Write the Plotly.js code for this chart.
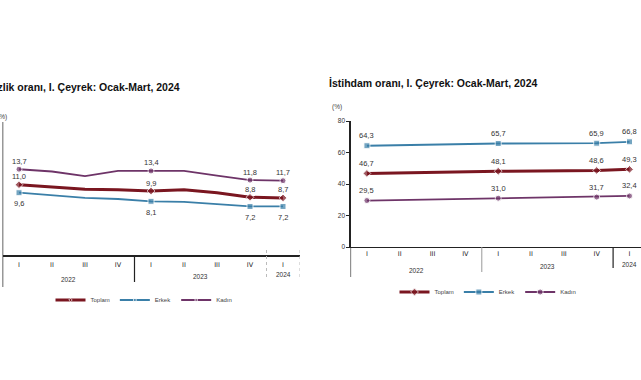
<!DOCTYPE html>
<html>
<head>
<meta charset="utf-8">
<script src="https://cdn.plot.ly/plotly-3.0.1.min.js"></script>
<style>
html,body{margin:0;padding:0;background:#fff;}
#chart{width:641px;height:380px;}
</style>
</head>
<body>
<div id="chart"></div>
<script>
// ---- data ----
const quarters = ["I","II","III","IV","I","II","III","IV","I"];
const years = ["2022","2023","2024"];
const yearSizes = [4,4,1];

// İşsizlik oranı (%)
const unempTotal  = [11.0,10.6,10.2,10.1,9.9,10.1,9.6,8.8,8.7];
const unempMale   = [9.6,9.1,8.7,8.5,8.1,8.0,7.6,7.2,7.2];
const unempFemale = [13.7,13.3,12.5,13.4,13.4,13.4,12.6,11.8,11.7];
const labeledIdx  = [0,4,7,8];

// İstihdam oranı (%)
const empTotal  = [46.7,null,null,null,48.1,null,null,48.6,49.3];
const empMale   = [64.3,null,null,null,65.7,null,null,65.9,66.8];
const empFemale = [29.5,null,null,null,31.0,null,null,31.7,32.4];

const leftTitle  = "İşsizlik oranı, I. Çeyrek: Ocak-Mart, 2024";
const rightTitle = "İstihdam oranı, I. Çeyrek: Ocak-Mart, 2024";
const unitLabel  = "(%)";

// ---- helpers ----
const W = 641, H = 380;
const px = x => x / W;
const py = y => 1 - y / H;
const xs = quarters.map((q, i) => i);
const fmt = v => v.toFixed(1).replace(".", ",");
const FONT = "Liberation Sans, Arial, sans-serif";

const colors = {Toplam: "#7a1620", Erkek: "#3a7fa8", "Kadın": "#6e3468"};
const widths = {Toplam: 3, Erkek: 1.8, "Kadın": 1.8};
const symbols = {Toplam: "diamond", Erkek: "square", "Kadın": "circle"};

const traces = [];
const annotations = [];

function addSeries(vals, name, xa, ya, legend, showAll, shift) {
  const sizes = vals.map((v, i) => (showAll || labeledIdx.includes(i)) ? 6 : 0);
  traces.push({
    type: "scatter", mode: "lines+markers", x: xs, y: vals, name: name,
    xaxis: xa, yaxis: ya, legend: legend, connectgaps: true,
    line: {color: colors[name], width: widths[name]},
    marker: {symbol: symbols[name], size: sizes, color: colors[name]},
    hoverinfo: "skip"
  });
  vals.forEach((v, i) => {
    if (v === null || v === undefined) return;
    if (!(showAll || labeledIdx.includes(i))) return;
    annotations.push({xref: xa, yref: ya, x: xs[i], y: v, text: fmt(v),
      showarrow: false, xanchor: "center", yanchor: "middle", yshift: shift,
      font: {family: FONT, size: 7.5, color: "#333"}});
  });
}

addSeries(unempTotal,  "Toplam", "x", "y", "legend", false, 8);
addSeries(unempMale,   "Erkek",  "x", "y", "legend", false, -11);
addSeries(unempFemale, "Kadın",  "x", "y", "legend", false, 8);

addSeries(empTotal,  "Toplam", "x2", "y2", "legend2", true, 10);
addSeries(empMale,   "Erkek",  "x2", "y2", "legend2", true, 10);
addSeries(empFemale, "Kadın",  "x2", "y2", "legend2", true, 10);

// year group centres (derived from group sizes)
const yearCenters = [];
const groupBounds = [];
let start = 0;
yearSizes.forEach(s => { yearCenters.push(start + (s - 1) / 2); start += s; groupBounds.push(start - 0.5); });

annotations.push(
  {xref: "paper", yref: "paper", x: px(182), y: py(87), xanchor: "right", yanchor: "middle",
   text: "<b>" + leftTitle + "</b>", showarrow: false, font: {family: FONT, size: 10.5, color: "#111"}},
  {xref: "paper", yref: "paper", x: px(327), y: py(83), xanchor: "left", yanchor: "middle",
   text: "<b>" + rightTitle + "</b>", showarrow: false, font: {family: FONT, size: 10.5, color: "#111"}},
  {xref: "paper", yref: "paper", x: px(9), y: py(117), xanchor: "right", yanchor: "middle",
   text: unitLabel, showarrow: false, font: {family: FONT, size: 6.5, color: "#444"}},
  {xref: "paper", yref: "paper", x: px(337), y: py(107), xanchor: "center", yanchor: "middle",
   text: unitLabel, showarrow: false, font: {family: FONT, size: 6.5, color: "#444"}}
);
const leftYearY = [279, 276, 274];
const rightYearY = [270, 266, 264];
years.forEach((yr, i) => {
  annotations.push({xref: "x", yref: "paper", x: yearCenters[i], y: py(leftYearY[i]),
    xanchor: "center", yanchor: "middle",
    text: yr, showarrow: false, font: {family: FONT, size: 6.5, color: "#333"}});
  annotations.push({xref: "x2", yref: "paper", x: yearCenters[i], y: py(rightYearY[i]),
    xanchor: "center", yanchor: "middle",
    text: yr, showarrow: false, font: {family: FONT, size: 6.5, color: "#333"}});
});

const shapes = [
  // left chart: y-axis line extended through category area
  {type: "line", xref: "x", yref: "paper", x0: -0.5, x1: -0.5, y0: py(122), y1: py(287), line: {color: "#333", width: 1.5}},
  {type: "line", xref: "x", yref: "paper", x0: groupBounds[0], x1: groupBounds[0], y0: py(255), y1: py(282), line: {color: "#222", width: 1.2}},
  {type: "line", xref: "x", yref: "paper", x0: groupBounds[1], x1: groupBounds[1], y0: py(250), y1: py(278), line: {color: "#bbb", width: 1, dash: "dot"}},
  {type: "line", xref: "x", yref: "paper", x0: groupBounds[2], x1: groupBounds[2], y0: py(250), y1: py(278), line: {color: "#bbb", width: 1, dash: "dot"}},
  // right chart
  {type: "line", xref: "x2", yref: "paper", x0: -0.5, x1: -0.5, y0: py(247), y1: py(277), line: {color: "#222", width: 1.2}},
  {type: "line", xref: "x2", yref: "paper", x0: groupBounds[0], x1: groupBounds[0], y0: py(247), y1: py(272), line: {color: "#999", width: 1}},
  {type: "line", xref: "x2", yref: "paper", x0: groupBounds[1], x1: groupBounds[1], y0: py(247), y1: py(268), line: {color: "#222", width: 1.2}}
];

const axisFont = {family: "DejaVu Sans, Liberation Sans, sans-serif", size: 6.5, color: "#222"};

const layout = {
  width: W, height: H,
  margin: {l: 0, r: 0, t: 0, b: 0, pad: 0},
  paper_bgcolor: "#fff", plot_bgcolor: "rgba(0,0,0,0)",
  font: {family: FONT},
  xaxis: {domain: [px(2.5), px(299.5)], range: [-0.5, 8.5], anchor: "y",
    tickvals: xs, ticktext: quarters, tickfont: axisFont, ticks: "", ticklabelstandoff: 3,
    showgrid: false, zeroline: false, showline: true, linecolor: "#222", linewidth: 1.5},
  yaxis: {domain: [py(255), py(125)], range: [-1.27, 21.42], anchor: "x",
    showticklabels: false, showgrid: false, zeroline: false, showline: false, ticks: ""},
  xaxis2: {domain: [px(350.5), 1], range: [-0.5, 8.35], anchor: "y2",
    tickvals: xs, ticktext: quarters, tickfont: axisFont, ticks: "",
    showgrid: false, zeroline: false, showline: true, linecolor: "#222", linewidth: 1.2},
  yaxis2: {domain: [py(247), py(121)], range: [0, 80], anchor: "x2", dtick: 20,
    tickfont: {family: FONT, size: 6.5, color: "#333"}, ticks: "outside", ticklen: 3, tickcolor: "#222",
    showgrid: false, zeroline: false, showline: true, linecolor: "#222", linewidth: 1.2},
  legend: {x: px(144), xanchor: "center", y: py(300), yanchor: "middle", orientation: "h",
    font: {family: FONT, size: 6, color: "#444"}, itemwidth: 30, bgcolor: "rgba(0,0,0,0)"},
  legend2: {x: px(488), xanchor: "center", y: py(292), yanchor: "middle", orientation: "h",
    font: {family: FONT, size: 6, color: "#444"}, itemwidth: 30, bgcolor: "rgba(0,0,0,0)"},
  annotations: annotations,
  shapes: shapes,
  showlegend: true
};

Plotly.newPlot("chart", traces, layout, {displayModeBar: false, staticPlot: true});
</script>
</body>
</html>
